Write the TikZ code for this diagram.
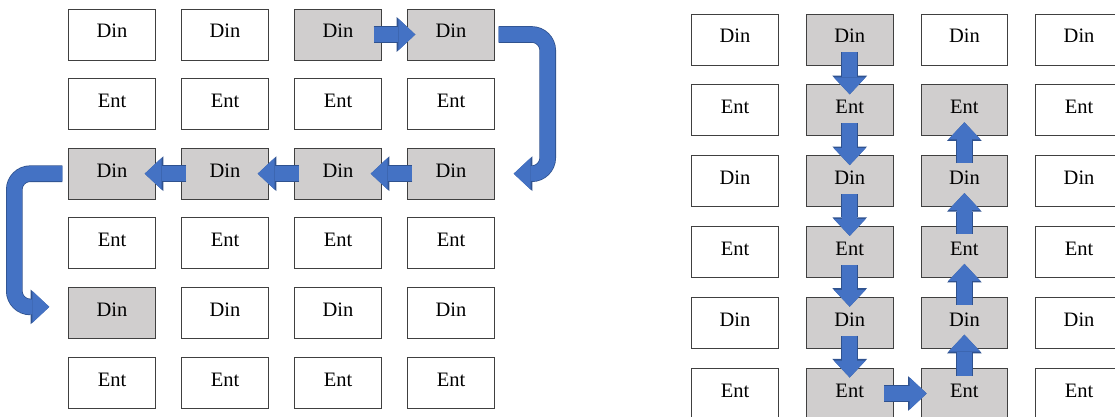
\documentclass[tikz,border=0pt]{standalone}
\usepackage{fontspec}
\setmainfont{Liberation Serif}
\usetikzlibrary{arrows.meta}

\definecolor{boxgray}{HTML}{D0CECE}
\definecolor{boxline}{HTML}{404040}
\definecolor{flowblue}{HTML}{4472C4}
\definecolor{flowedge}{HTML}{2F528F}

\tikzset{
	cell/.style={draw=boxline, line width=0.9pt, rectangle, minimum width=86.5pt,
			minimum height=51pt, inner sep=0pt, text height=14pt, text depth=7pt,
			font=\fontsize{20.5}{24}\selectfont},
	flow/.style={
			preaction={draw=flowedge, line width=16.6pt,
					-{Triangle[length=18.6pt,width=34.6pt,line width=0pt,fill=flowedge]}},
			draw=flowblue, line width=15pt,
			-{Triangle[length=17pt,width=32pt,line width=0pt,fill=flowblue]}},
}

\begin{document}
\begin{tikzpicture}[x=1pt,y=-1pt]
	\clip (0,0) rectangle (1115,417);

	% left grid
	\foreach \i in {1,...,6}{
			\foreach \j in {1,...,4}{
					\def\cellfill{white}
					\ifnum\i=1 \ifnum\j>2 \def\cellfill{boxgray}\fi\fi
					\ifnum\i=3 \def\cellfill{boxgray}\fi
					\ifnum\i=5 \ifnum\j=1 \def\cellfill{boxgray}\fi\fi
					\ifodd\i \def\lab{Din}\else \def\lab{Ent}\fi
					\node [cell, fill=\cellfill] (l-\i-\j) at ({112+113*(\j-1)},{34.5+69.6*(\i-1)}) {\lab};
				}}

	% right grid
	\foreach \i in {1,...,6}{
			\foreach \j in {1,...,4}{
					\def\cellfill{white}
					\ifnum\j=2 \def\cellfill{boxgray}\fi
					\ifnum\j=3 \ifnum\i>1 \def\cellfill{boxgray}\fi\fi
					\ifodd\i \def\lab{Din}\else \def\lab{Ent}\fi
					\node [cell, fill=\cellfill] (r-\i-\j) at ({735+114.7*(\j-1)},{39.5+70.8*(\i-1)}) {\lab};
				}}

	% left path
	\draw [flow] ([xshift=-8pt]l-1-3.east) -- ([xshift=8pt]l-1-4.west);
	\draw [flow, rounded corners=16pt] ([xshift=4pt]l-1-4.east) -- ++(49,0) |- ([xshift=19pt]l-3-4.east);
	\foreach \j [evaluate={\jj=int(\j-1);}] in {4,3,2}{
			\draw [flow] ([xshift=5pt]l-3-\j.west) -- ([xshift=-11pt]l-3-\jj.east);
		}
	\draw [flow, rounded corners=16pt] ([xshift=-6pt]l-3-1.west) -- ++(-48,0) |- ([xshift=-19pt,yshift=6pt]l-5-1.west);

	% right path
	\foreach \i [evaluate={\ii=int(\i+1);}] in {1,...,5}{
			\draw [flow] ([yshift=13pt]r-\i-2.south) -- ([yshift=-10pt]r-\ii-2.north);
		}
	\draw [flow] ([xshift=-9pt]r-6-2.east) -- ([xshift=6pt]r-6-3.west);
	\foreach \i [evaluate={\ii=int(\i-1);}] in {6,...,3}{
			\draw [flow] ([yshift=-8pt]r-\i-3.north) -- ([yshift=14pt]r-\ii-3.south);
		}
\end{tikzpicture}
\end{document}
